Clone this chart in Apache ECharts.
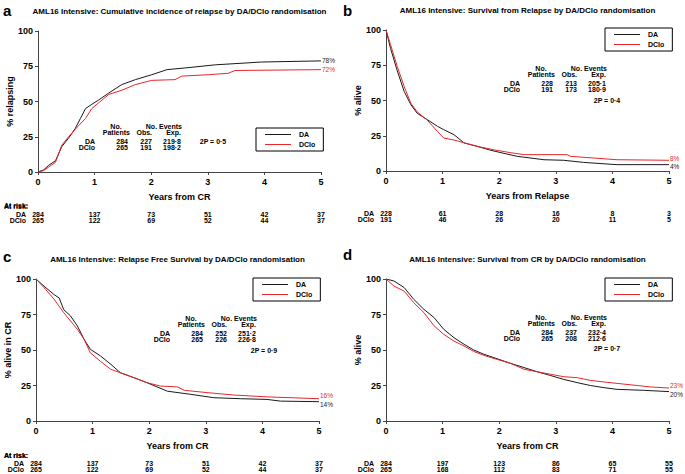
<!DOCTYPE html>
<html><head><meta charset="utf-8">
<script src="https://cdn.jsdelivr.net/npm/echarts@6/dist/echarts.min.js"></script>
<style>html,body{margin:0;padding:0;background:#fff}#c{width:685px;height:474px}</style>
</head><body><div id="c"></div>
<script>
// ---------- data ----------
const xTicks = [0, 1, 2, 3, 4, 5];
// a: cumulative incidence of relapse
const aDA_t   = [0,0.1,0.19,0.31,0.42,0.54,0.66,0.75,0.84,0.95,1.07,1.25,1.48,1.72,2.01,2.28,2.6,3.13,3.95,5];
const aDA_v   = [0,1.5,4.8,8,18,24,31,38,45,48,51,56,62,65.5,69,72.6,73.8,76,78,78.8];
const aDClo_t = [0,0.1,0.19,0.31,0.42,0.54,0.72,0.84,0.95,1.07,1.25,1.48,1.72,2.01,2.42,2.54,3.01,3.36,3.48,5];
const aDClo_v = [0,1,3.5,7,19,25,33,38,45,49,55,58,62,65,65.5,68,69,70,72,72.6];
// b: survival from relapse
const bDA_t   = [0,0.08,0.2,0.32,0.44,0.55,0.73,0.91,1.02,1.2,1.38,1.61,1.85,2.14,2.32,2.79,3.14,3.49,4.08,5];
const bDA_v   = [100,87,71,56.5,47,41,36.4,31.7,29.3,25.8,19.9,17.5,14.7,12,10.4,8,7.6,6.1,4.5,4.5];
const bDClo_t = [0,0.08,0.2,0.32,0.44,0.55,0.73,0.91,1.02,1.2,1.38,1.61,1.91,2.2,2.44,3.2,3.26,4.08,5];
const bDClo_v = [100,89.6,74,60,48,42,36,28,23.4,22,20,17.5,15,13,11.6,11.6,10.4,8,7.6];
// c: relapse free survival
const cDA_t   = [0,0.14,0.32,0.41,0.49,0.61,0.73,0.85,0.96,1.14,1.32,1.49,1.73,1.96,2.32,2.73,3.14,3.61,4.08,4.32,5];
const cDA_v   = [100,95,89,86.6,78.4,74,67,57.5,50.5,45.8,40,34,30.5,27,21,18.8,16.4,15.7,15.2,14,13.6];
const cDClo_t = [0,0.14,0.32,0.49,0.61,0.73,0.85,0.96,1.14,1.32,1.49,1.73,1.96,2.2,2.5,2.62,3.02,3.49,4.08,5];
const cDClo_v = [100,94,85.7,76.3,70.4,64.6,57.5,48,42,36.4,34,30.5,27,24.6,24,21.6,20,18.3,17,15.7];
// d: survival from CR
const dDA_t   = [0,0.14,0.32,0.49,0.67,0.85,1.02,1.2,1.38,1.55,1.73,1.96,2.2,2.44,2.67,2.91,3.14,3.38,3.61,3.85,4.08,4.55,5];
const dDA_v   = [100,98.6,94,85.7,78.6,72.8,64.6,58.7,54,50,47,43.9,40.6,37.6,34.7,32,29.3,27,25,23.5,22.3,21.6,20.7];
const dDClo_t = [0,0.14,0.32,0.49,0.67,0.85,1.02,1.2,1.38,1.55,1.73,1.96,2.2,2.44,2.67,2.91,3.14,3.38,3.61,3.85,4.08,4.44,4.67,5];
const dDClo_v = [100,95,91.5,83.3,76.3,67,61,56.3,52.8,49,46.2,43.4,40.6,36.4,34.7,32.9,31.2,30.5,28.6,27.5,26.5,25,24,23.2];
// at-risk numbers
const aRiskDA = [284,137,73,51,42,37],  aRiskDClo = [265,122,69,52,44,37];
const bRiskDA = [228,61,28,16,8,3],     bRiskDClo = [191,46,26,20,11,5];
const cRiskDA = [284,137,73,51,42,37],  cRiskDClo = [265,122,69,52,44,37];
const dRiskDA = [284,197,123,86,65,55], dRiskDClo = [265,168,112,83,71,55];
// summary statistics
const aStats = {DA:['284','227','219·8'], DClo:['265','191','198·2'], p:'2P = 0·5'};
const bStats = {DA:['228','213','205·1'], DClo:['191','173','180·9'], p:'2P = 0·4'};
const cStats = {DA:['284','252','251·2'], DClo:['265','226','226·8'], p:'2P = 0·9'};
const dStats = {DA:['284','237','232·4'], DClo:['265','208','212·6'], p:'2P = 0·7'};
const endLabels = {a:['78%','72%'], b:['4%','8%'], c:['14%','16%'], d:['20%','23%']};

// ---------- layout ----------
const FONT = "'Liberation Sans', Arial, Helvetica, sans-serif";
const BLACK = '#1a1a1a', RED = '#e8262b';
const panels = [
  {key:'a', letter:'a', title:'AML16 Intensive: Cumulative incidence of relapse by DA/DClo randomisation',
   ylab:'% relapsing', xlab:'Years from CR', grid:{left:38, top:31, width:283, height:141},
   da:[aDA_t,aDA_v], dclo:[aDClo_t,aDClo_v], risk:[aRiskDA,aRiskDClo], stats:aStats,
   tab:[95,126], pPos:[213,141], leg:[256,128], letterPos:[3,2], labOff:[0,0]},
  {key:'b', letter:'b', title:'AML16 Intensive: Survival from Relapse by DA/DClo randomisation',
   ylab:'% alive', xlab:'Years from Relapse', grid:{left:386, top:30, width:283, height:141},
   da:[bDA_t,bDA_v], dclo:[bDClo_t,bDClo_v], risk:[bRiskDA,bRiskDClo], stats:bStats,
   tab:[520,68], pPos:[607,100], leg:[605,28], letterPos:[343,2], labOff:[2,-2]},
  {key:'c', letter:'c', title:'AML16 Intensive: Relapse Free Survival by DA/DClo randomisation',
   ylab:'% alive in CR', xlab:'Years from CR', grid:{left:36, top:279, width:283, height:142},
   da:[cDA_t,cDA_v], dclo:[cDClo_t,cDClo_v], risk:[cRiskDA,cRiskDClo], stats:cStats,
   tab:[170,318], pPos:[264,350], leg:[253,278], letterPos:[3,248], labOff:[3,-3]},
  {key:'d', letter:'d', title:'AML16 Intensive: Survival from CR by DA/DClo randomisation',
   ylab:'% alive', xlab:'Years from CR', grid:{left:386, top:279, width:283, height:142},
   da:[dDA_t,dDA_v], dclo:[dDClo_t,dDClo_v], risk:[dRiskDA,dRiskDClo], stats:dStats,
   tab:[520,317], pPos:[607,348], leg:[605,278], letterPos:[343,246], labOff:[2.5,-2.5]}
];

const zip = (t, v) => t.map((x, i) => [x, v[i]]);
const chart = echarts.init(document.getElementById('c'), null, {renderer:'svg'});

const grids = [], xAxes = [], yAxes = [], series = [], legends = [];
panels.forEach((p, i) => {
  grids.push(Object.assign({containLabel:false}, p.grid));
  const axisCommon = {
    axisLine:{show:true, lineStyle:{color:'#444', width:1}},
    axisTick:{show:true, length:3, lineStyle:{color:'#444'}},
    splitLine:{show:false},
    axisLabel:{color:'#000', fontSize:9, fontWeight:'bold', fontFamily:FONT},
    nameLocation:'middle',
    nameTextStyle:{color:'#000', fontSize:9, fontWeight:'bold', fontFamily:FONT}
  };
  xAxes.push(Object.assign({}, axisCommon, {
    gridIndex:i, type:'value', min:0, max:5, interval:1, name:p.xlab, nameGap:20,
    axisLabel:Object.assign({}, axisCommon.axisLabel, {margin:5})
  }));
  yAxes.push(Object.assign({}, axisCommon, {
    gridIndex:i, type:'value', min:0, max:100, interval:25, name:p.ylab, nameGap:24,
    axisLabel:Object.assign({}, axisCommon.axisLabel, {margin:5})
  }));
  const mk = (name, d, color, lab, off) => ({
    type:'line', name, xAxisIndex:i, yAxisIndex:i, data:zip(d[0], d[1]),
    symbol:'none', lineStyle:{color, width:1}, itemStyle:{color}, animation:false,
    endLabel:{show:true, formatter:lab, color, fontSize:6.5, fontFamily:FONT, distance:1, offset:[0, off]}
  });
  series.push(mk('DA', p.da, BLACK, endLabels[p.key][0], p.labOff[0]));
  series.push(mk('DClo', p.dclo, RED, endLabels[p.key][1], p.labOff[1]));
  legends.push({
    data:['DA','DClo'], orient:'vertical', left:p.leg[0], top:p.leg[1],
    borderColor:'#000', borderWidth:1, padding:[2,8,2,9], itemGap:1,
    icon:'rect', itemWidth:26, itemHeight:1, selectedMode:false,
    textStyle:{fontSize:7, fontWeight:'bold', fontFamily:FONT, color:'#000', padding:[0,0,0,3], lineHeight:9}
  });
});

chart.setOption({
  animation:false,
  grid:grids, xAxis:xAxes, yAxis:yAxes, series:series, legend:legends
});

// ---------- text graphics ----------
const g = [];
const txt = (x, y, s, opt) => g.push({type:'text', x, y, silent:true, style:Object.assign({
  text:s, fill:'#000', font:'bold 7px ' + FONT, textAlign:'left', textVerticalAlign:'middle'}, opt || {})});

panels.forEach((p, i) => {
  const L = p.grid.left, T = p.grid.top, W = p.grid.width, H = p.grid.height;
  // letter and title
  txt(p.letterPos[0], p.letterPos[1] + 8, p.letter, {font:'bold 15px ' + FONT});
  txt(L + W / 2, T - 20, p.title, {font:'bold 8px ' + FONT, textAlign:'center'});
  // at-risk table
  const baseY = T + H;
  txt(4, baseY + 34, 'At risk:');
  txt(L - 12, baseY + 42, 'DA', {textAlign:'right'});
  txt(L - 12, baseY + 48, 'DClo', {textAlign:'right'});
  xTicks.forEach((t, k) => {
    const px = chart.convertToPixel({xAxisIndex:i}, t);
    txt(px, baseY + 42, String(p.risk[0][k]), {textAlign:'center'});
    txt(px, baseY + 48, String(p.risk[1][k]), {textAlign:'center'});
  });
  // stats table
  const [tx, ty] = p.tab;
  txt(tx + 21, ty, 'No.', {textAlign:'center'});
  txt(tx + 35, ty + 6, 'Patients', {textAlign:'right'});
  txt(tx + 87, ty, 'No. Events', {textAlign:'right'});
  txt(tx + 57, ty + 6, 'Obs.', {textAlign:'right'});
  txt(tx + 86, ty + 6, 'Exp.', {textAlign:'right'});
  txt(tx, ty + 15, 'DA', {textAlign:'right'});
  txt(tx, ty + 21, 'DClo', {textAlign:'right'});
  const cols = [33, 57, 86];
  cols.forEach((c, k) => {
    txt(tx + c, ty + 15, p.stats.DA[k], {textAlign:'right'});
    txt(tx + c, ty + 21, p.stats.DClo[k], {textAlign:'right'});
  });
  txt(p.pPos[0], p.pPos[1], p.stats.p, {textAlign:'center'});
});
chart.setOption({graphic:g});
</script>
</body></html>
